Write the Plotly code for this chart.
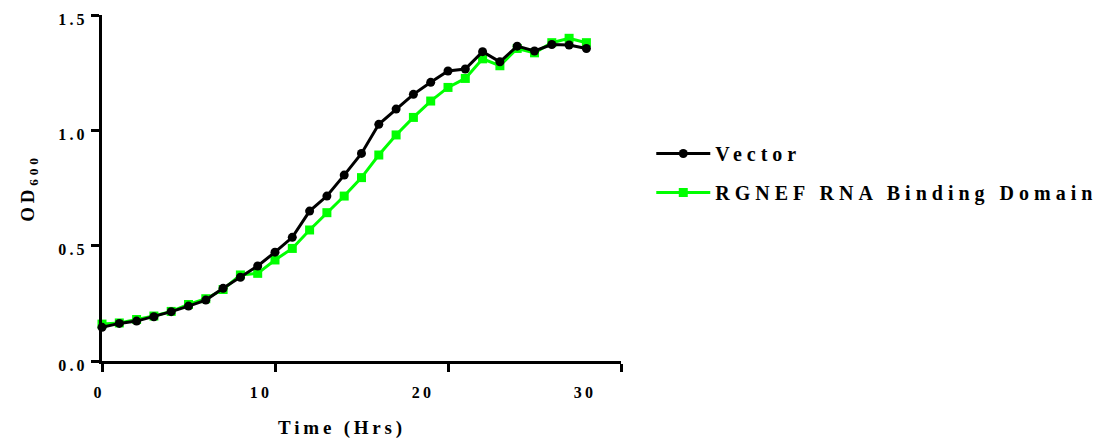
import plotly.graph_objects as go

# Growth curve: OD600 readings taken every hour
time_hrs = list(range(29))
vector_od = [0.146, 0.163, 0.173, 0.192, 0.214, 0.238, 0.264, 0.315, 0.363, 0.412,
             0.472, 0.536, 0.650, 0.715, 0.806, 0.900, 1.026, 1.092, 1.156, 1.208,
             1.257, 1.266, 1.341, 1.297, 1.365, 1.344, 1.372, 1.370, 1.355]
rgnef_od = [0.160, 0.165, 0.180, 0.195, 0.215, 0.245, 0.270, 0.310, 0.373, 0.380,
            0.438, 0.488, 0.568, 0.643, 0.715, 0.795, 0.893, 0.980, 1.056, 1.127,
            1.186, 1.225, 1.310, 1.280, 1.355, 1.336, 1.380, 1.399, 1.380]

x_ticks = [0, 10, 20, 30]
y_ticks = [0.0, 0.5, 1.0, 1.5]
y_tick_text = ["0.0", "0.5", "1.0", "1.5"]

FONT = "Liberation Serif, Times New Roman, serif"

fig = go.Figure()

# green series first so the black one sits on top
fig.add_trace(go.Scatter(
    x=time_hrs, y=rgnef_od, name="RGNEF RNA Binding Domain",
    mode="lines+markers", legendrank=2, legendgroup="b",
    line=dict(color="#00FF00", width=3),
    marker=dict(symbol="square", size=9, color="#00FF00"),
    cliponaxis=False,
))
fig.add_trace(go.Scatter(
    x=time_hrs, y=vector_od, name="Vector",
    mode="lines+markers", legendrank=1, legendgroup="a",
    line=dict(color="black", width=3),
    marker=dict(symbol="circle", size=9, color="black"),
    cliponaxis=False,
))
# empty trace that carries the labelled time axis
fig.add_trace(go.Scatter(x=[], y=[], xaxis="x2", yaxis="y",
                         showlegend=False, hoverinfo="skip"))

W, H = 1111, 447
L, R, T, B = 99, 490, 15, 86
plot_w = W - L - R

fig.update_layout(
    width=W, height=H,
    margin=dict(l=L, r=R, t=T, b=B, autoexpand=False),
    paper_bgcolor="white", plot_bgcolor="rgba(0,0,0,0)",
    font=dict(family=FONT, color="black", weight="bold"),
    showlegend=True,
    legend=dict(
        x=1.058, y=0.656, xanchor="left", yanchor="top",
        traceorder="grouped", tracegroupgap=10, itemwidth=54,
        font=dict(family=FONT, size=20, color="black", weight="bold"),
        bgcolor="rgba(0,0,0,0)",
    ),
    xaxis=dict(
        domain=[3 / plot_w, 1], range=[0, 30], anchor="y", automargin=False,
        showline=True, linecolor="black", linewidth=3,
        ticks="outside", ticklen=8, tickwidth=3, tickcolor="black",
        tickvals=x_ticks, showticklabels=False,
        showgrid=False, zeroline=False,
    ),
    xaxis2=dict(
        domain=[0, 486 / plot_w], range=[0, 30], anchor="y", automargin=False,
        showline=False, ticks="", tickvals=x_ticks,
        tickfont=dict(family=FONT, size=16, color="black", weight="bold"),
        ticklabelstandoff=20,
        showgrid=False, zeroline=False,
        title=dict(text="Time (Hrs)", standoff=20,
                   font=dict(family=FONT, size=19, color="black", weight="bold")),
    ),
    yaxis=dict(
        range=[0, 1.5], anchor="x", automargin=False,
        showline=True, linecolor="black", linewidth=3,
        ticks="outside", ticklen=8, tickwidth=3, tickcolor="black",
        tickvals=y_ticks, ticktext=y_tick_text,
        tickfont=dict(family=FONT, size=16, color="black", weight="bold"),
        ticklabelshift=4,
        showgrid=False, zeroline=False,
        title=dict(text="OD<sub>600</sub>", standoff=29,
                   font=dict(family=FONT, size=19, color="black", weight="bold")),
    ),
)

# spaced-out lettering used throughout the chart; the legend box is not
# clipped so the wider text stays whole
spacing_css = (
    "var s=document.createElement('style');"
    "s.textContent='.main-svg text{letter-spacing:0.2em;} "
    ".main-svg text.legendtext{letter-spacing:0.25em;} "
    ".legend .scrollbox{clip-path:none !important;}';"
    "document.head.appendChild(s);"
)

fig.write_html("out.html", post_script=spacing_css)
